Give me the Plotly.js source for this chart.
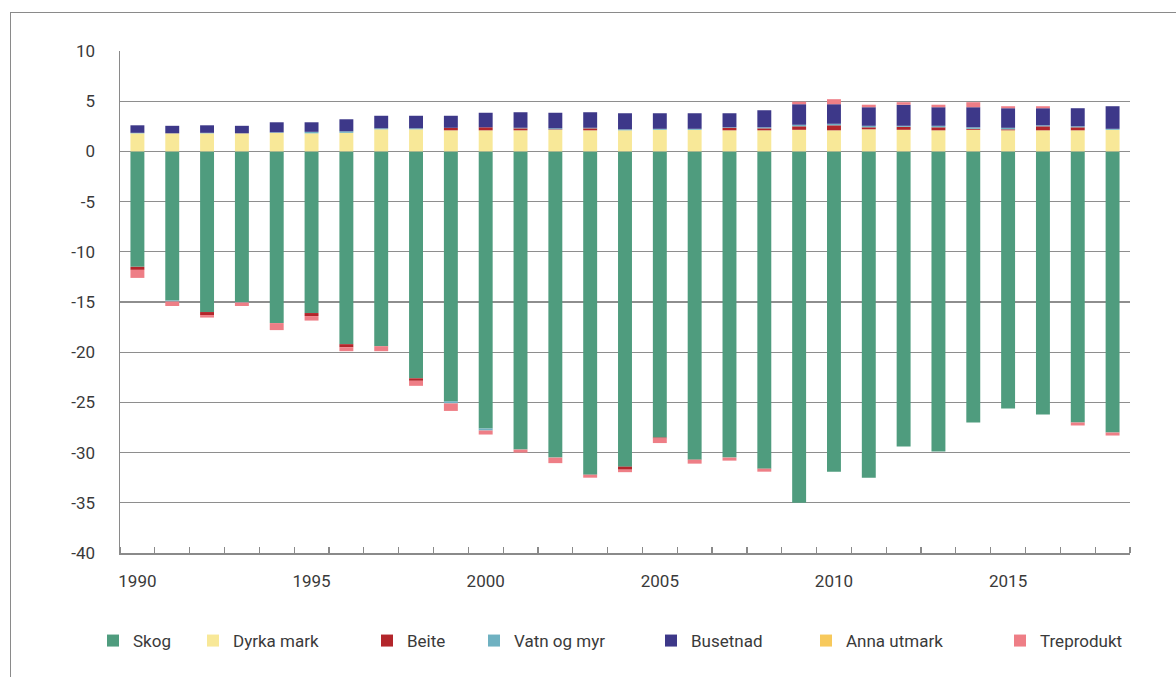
<!DOCTYPE html>
<html>
<head>
<meta charset="utf-8">
<script src="https://cdn.plot.ly/plotly-3.0.1.min.js"></script>
<style>
  html, body { margin: 0; padding: 0; background: #fff; }
  #wrap { position: relative; width: 1176px; height: 677px; overflow: hidden; }
  #chart { position: absolute; left: 0; top: 0; width: 1176px; height: 677px; }
  #frame { position: absolute; left: 10px; top: 12px; width: 1200px; height: 700px;
           border-top: 1.5px solid #8a8a8a; border-left: 1.5px solid #8a8a8a; pointer-events: none; }
</style>
</head>
<body>
<div id="wrap">
  <div id="chart"></div>
  <div id="frame"></div>
</div>
<script>
const years = [1990,1991,1992,1993,1994,1995,1996,1997,1998,1999,2000,2001,2002,2003,2004,2005,2006,2007,2008,2009,2010,2011,2012,2013,2014,2015,2016,2017,2018];

const skog = [-11.5,-14.85,-16.0,-15.0,-17.1,-16.1,-19.2,-19.4,-22.6,-24.9,-27.6,-29.7,-30.5,-32.2,-31.4,-28.5,-30.7,-30.5,-31.6,-35.0,-31.9,-32.5,-29.4,-29.9,-27.0,-25.6,-26.2,-27.0,-28.0];
const dyrkaMark = [1.8,1.8,1.8,1.8,1.85,1.8,1.85,2.2,2.2,2.1,2.1,2.1,2.15,2.1,2.1,2.15,2.15,2.1,2.1,2.15,2.1,2.2,2.15,2.1,2.15,2.1,2.1,2.1,2.15];
const beite = [-0.3,0,-0.3,0,0,-0.3,-0.3,0,-0.25,0.25,0.3,0.2,0.05,0.2,-0.3,-0.1,0,0.25,0.2,0.35,0.5,0.2,0.3,0.3,0.1,0.1,0.4,0.3,0];
const vatnOgMyr = [0.05,-0.1,0.05,-0.05,0.05,0.15,0.15,0.1,0.1,-0.2,-0.2,0.05,0.1,0.05,0.1,0.1,0.1,0.05,0.1,0.15,0.15,0.15,0.1,0.15,0.15,0.15,0.1,0.1,0.1];
const busetnad = [0.75,0.75,0.75,0.75,1.0,0.95,1.2,1.25,1.25,1.2,1.45,1.55,1.55,1.55,1.6,1.55,1.55,1.4,1.7,2.05,1.95,1.85,2.1,1.85,2.0,1.95,1.7,1.8,2.25];
const annaUtmark = [0,0,0,0,0,0,0,0,0,0,0,0,0,0,0,0,0,0,0,0,0,0,0,0,0,0,0,0,0];
const treprodukt = [-0.8,-0.45,-0.25,-0.35,-0.7,-0.45,-0.4,-0.5,-0.5,-0.75,-0.4,-0.3,-0.55,-0.3,-0.25,-0.45,-0.4,-0.3,-0.3,0.25,0.5,0.25,0.25,0.25,0.5,0.2,0.2,-0.3,-0.3];

const seriesNames = ["Skog","Dyrka mark","Beite","Vatn og myr","Busetnad","Anna utmark","Treprodukt"];
const seriesValues = [skog, dyrkaMark, beite, vatnOgMyr, busetnad, annaUtmark, treprodukt];
const seriesColors = ["#4f9c7e","#f8e898","#b3262b","#6fb1c1","#3d3889","#f7c95c","#ee7e86"];

const yTickVals = [10,5,0,-5,-10,-15,-20,-25,-30,-35,-40];
const yTickText = ["10","5","0","-5","-10","-15","-20","-25","-30","-35","-40"];

const legendIds = ["legend","legend2","legend3","legend4","legend5","legend6","legend7"];
const legendX = [107, 207, 381, 488, 665, 820, 1014]; // legend item anchors in px

const traces = seriesNames.map((name, i) => ({
  type: "bar",
  name: name,
  x: years,
  y: seriesValues[i],
  marker: { color: seriesColors[i], line: { width: 0 } },
  legend: legendIds[i],
  hoverinfo: "skip"
}));

const plotL = 120, plotR = 1130, plotT = 51, plotB = 553;
const W = 1176, H = 677;
const legendFont = { family: "Roboto, 'Open Sans', sans-serif", size: 17, color: "#3a3a3a" };

const layout = {
  width: W, height: H,
  margin: { l: plotL, r: W - plotR, t: plotT, b: H - plotB, pad: 0 },
  paper_bgcolor: "rgba(0,0,0,0)",
  plot_bgcolor: "#fff",
  barmode: "relative",
  bargap: 0.6,
  showlegend: true,
  font: { family: "Roboto, 'Open Sans', sans-serif", size: 17, color: "#3a3a3a" },
  xaxis: {
    range: [1989.5, 2018.5],
    tick0: 1990, dtick: 5,
    ticks: "",
    showgrid: false,
    zeroline: false,
    showline: true, linecolor: "#8a8a8a", linewidth: 1.5,
    ticklabelstandoff: 12,
    tickfont: { size: 17, color: "#3a3a3a" },
    minor: { ticks: "inside", tick0: 1989.5, dtick: 1, ticklen: 6, tickcolor: "#8a8a8a", tickwidth: 1.2, showgrid: false }
  },
  yaxis: {
    range: [-40, 10],
    tickmode: "array",
    tickvals: yTickVals,
    ticktext: yTickText,
    ticks: "",
    showgrid: true, gridcolor: "#8e8e8e", gridwidth: 1.2,
    zeroline: true, zerolinecolor: "#8e8e8e", zerolinewidth: 1.2,
    showline: true, linecolor: "#8a8a8a", linewidth: 1.5,
    ticklabelstandoff: 20,
    tickfont: { size: 17, color: "#3a3a3a" }
  }
};

legendIds.forEach((id, i) => {
  layout[id] = {
    x: (legendX[i] - 14 - plotL) / (plotR - plotL),
    xanchor: "left",
    y: (plotB - 641) / (plotB - plotT),
    yanchor: "middle",
    orientation: "h",
    bgcolor: "rgba(0,0,0,0)",
    borderwidth: 0,
    itemwidth: 30,
    font: legendFont,
    itemclick: false
  };
});

Plotly.newPlot("chart", traces, layout, { displayModeBar: false, staticPlot: true });
</script>
</body>
</html>
